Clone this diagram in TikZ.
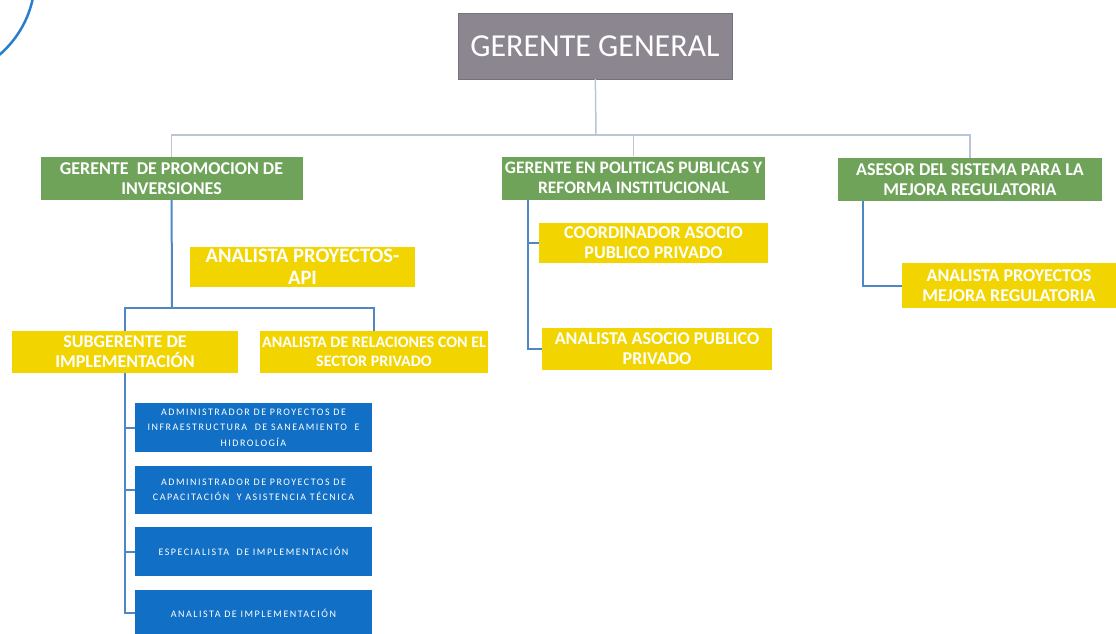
\documentclass[tikz,border=0pt]{standalone}
\usepackage{fontspec}
\setmainfont{Carlito}
\definecolor{boss}{HTML}{8B8690}
\definecolor{mgr}{HTML}{6FA35A}
\definecolor{staff}{HTML}{F2D500}
\definecolor{tech}{HTML}{1170C6}
\definecolor{bus}{HTML}{BAC5D8}
\definecolor{link}{HTML}{4F86C6}
\begin{document}
\begin{tikzpicture}[x=1pt,y=-1pt,
    box/.style={rectangle,inner sep=1pt,align=center,text=white,font=\bfseries},
    bossbox/.style={box,fill=boss,draw=boss!85!black,minimum width=274pt,minimum height=66pt,font=\fontsize{32}{34}\selectfont},
    mgrbox/.style={box,fill=mgr,minimum width=262pt,minimum height=43pt,font=\bfseries\fontsize{18}{20.5}\selectfont},
    staffbox/.style={box,fill=staff,minimum width=228pt,minimum height=42pt,font=\bfseries\fontsize{18}{20}\selectfont},
    techbox/.style={box,fill=tech,minimum width=237pt,minimum height=48pt,font=\fontsize{10}{15.5}\selectfont\addfontfeatures{LetterSpace=15}},
    buslink/.style={draw=bus,line width=1.5pt},
    bluelink/.style={draw=link,line width=2pt}]
  \useasboundingbox (0,0) rectangle (1116,634);
  % corner of the logo
  \draw[tech!90!white,line width=2.5pt] (-67,-22.6) circle (102);
  \draw
    (595,46) node[bossbox] (gg){GERENTE GENERAL}
    (171.5,178.5) node[mgrbox] (g1){GERENTE \ DE PROMOCION DE\\INVERSIONES}
    (633.5,178) node[mgrbox,minimum width=263pt,font=\bfseries\fontsize{17.5}{20.5}\selectfont] (g2){GERENTE EN POLITICAS PUBLICAS Y\\REFORMA INSTITUCIONAL}
    (970,179.5) node[mgrbox,minimum width=264pt] (g3){ASESOR DEL SISTEMA PARA LA\\MEJORA REGULATORIA}
    (302.5,267) node[staffbox,minimum width=225pt,minimum height=40pt,font=\bfseries\fontsize{20.5}{22}\selectfont] (api){ANALISTA PROYECTOS-\\API}
    (125,352) node[staffbox,minimum width=226pt] (sub){SUBGERENTE DE\\IMPLEMENTACIÓN}
    (374,352) node[staffbox,font=\bfseries\fontsize{16}{19}\selectfont] (arp){ANALISTA DE RELACIONES CON EL\\SECTOR PRIVADO}
    (653.5,243) node[staffbox,minimum width=229pt,minimum height=40pt] (coord){COORDINADOR ASOCIO\\PUBLICO PRIVADO}
    (657,349) node[staffbox,minimum width=230pt] (aapp){ANALISTA ASOCIO PUBLICO\\PRIVADO}
    (1009,285.5) node[staffbox,minimum width=214pt,minimum height=45pt] (apmr){ANALISTA PROYECTOS\\MEJORA REGULATORIA}
    (253.5,427.5) node[techbox,minimum height=49pt] (b1){ADMINISTRADOR DE PROYECTOS DE\\INFRAESTRUCTURA \ DE SANEAMIENTO \ E\\HIDROLOGÍA}
    (253.5,490) node[techbox] (b2){ADMINISTRADOR DE PROYECTOS DE\\CAPACITACIÓN \ Y ASISTENCIA TÉCNICA}
    (253.5,551.5) node[techbox,minimum height=49pt] (b3){ESPECIALISTA \ DE IMPLEMENTACIÓN}
    (253.5,613) node[techbox,minimum height=46pt] (b4){ANALISTA DE IMPLEMENTACIÓN};
  \coordinate (top) at (596,135);
  \coordinate (split) at (172,308);
  \begin{scope}[buslink]
    \draw (gg) -- (top);
    \draw (top) -| (g1);
    \draw (top) -| (g2);
    \draw (top) -| (g3);
  \end{scope}
  \begin{scope}[bluelink]
    \draw (g1) -- (split);
    \draw (split) -| (sub);
    \draw (split) -| (arp);
    \draw (sub.south) |- (b1.west);
    \draw (sub.south) |- (b2.west);
    \draw (sub.south) |- (b3.west);
    \draw (sub.south) |- (b4.west);
    \draw ([xshift=26pt]g2.south west) |- (coord.west);
    \draw ([xshift=26pt]g2.south west) |- (aapp.west);
    \draw ([xshift=25pt]g3.south west) |- (apmr.west);
  \end{scope}
\end{tikzpicture}
\end{document}
